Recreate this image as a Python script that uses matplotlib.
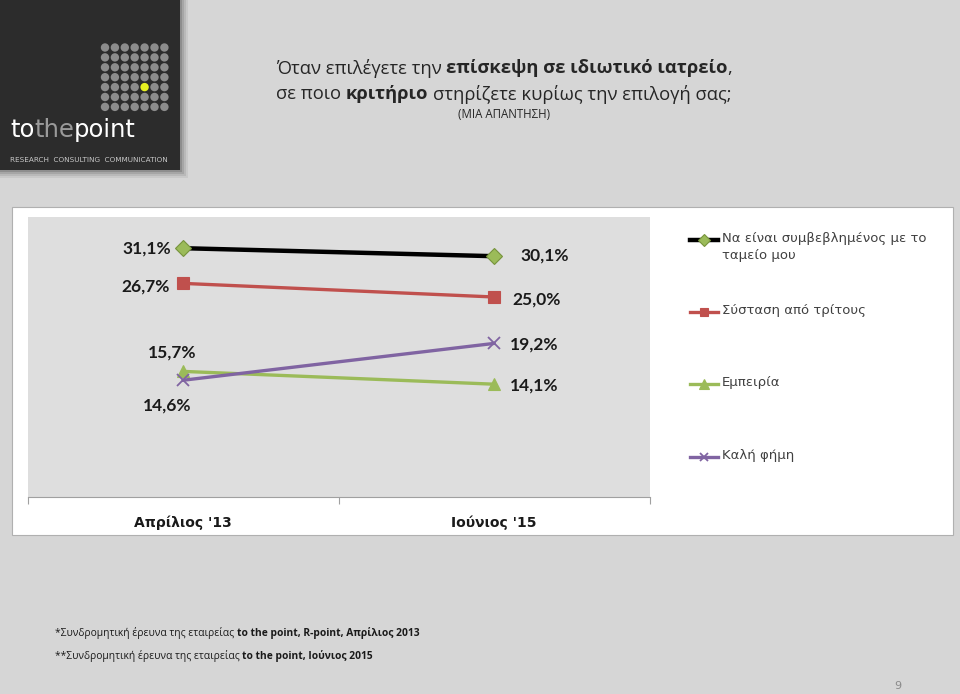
import matplotlib
matplotlib.use("Agg")
import matplotlib.pyplot as plt
from matplotlib.patches import Rectangle, Circle
from matplotlib.lines import Line2D

W, H = 960, 694

categories = ["Απρίλιος '13", "Ιούνιος '15"]
series_names = ["Να είναι συμβεβλημένος με το\nταμείο μου", "Σύσταση από τρίτους", "Εμπειρία", "Καλή φήμη"]
contract = [31.1, 30.1]
referral = [26.7, 25.0]
experience = [15.7, 14.1]
reputation = [14.6, 19.2]
values = [contract, referral, experience, reputation]

# line / marker styles per series
styles = [
    dict(color='#000000', lw=3.2, marker='D', ms=8, mfc='#9bbb59', mec='#77933c', mew=0.8),
    dict(color='#c0504d', lw=2.4, marker='s', ms=8, mfc='#c0504d', mec='#c0504d', mew=0.8),
    dict(color='#9bbb59', lw=2.4, marker='^', ms=9, mfc='#9bbb59', mec='#9bbb59', mew=0.8),
    dict(color='#8064a2', lw=2.4, marker='x', ms=8, mfc='#8064a2', mec='#8064a2', mew=1.3),
]
# label offsets in pixels (dx, dy), alignment
label_pos = [
    [(-12, 0, 'right'), (26, 1, 'left')],
    [(-14, -3, 'right'), (18, -3, 'left')],
    [(-11, 19, 'center'), (16, -1, 'left')],
    [(-16, -25, 'center'), (16, -1, 'left')],
]


def fx(x):
    return x / W


def fy(y):
    return 1 - y / H


fig = plt.figure(figsize=(W / 100, H / 100), dpi=100)
fig.patch.set_facecolor('#d6d6d6')

# logo block with a soft shadow
for i, a in enumerate([0.06, 0.08, 0.10, 0.14]):
    d = 8 - 2 * i
    fig.add_artist(Rectangle((0, fy(170 + d)), fx(180 + d), (170 + d) / H, transform=fig.transFigure,
                             color='black', alpha=a, lw=0, zorder=-2))
fig.add_artist(Rectangle((0, fy(170)), fx(180), 170 / H, transform=fig.transFigure, color='#2c2c2c', lw=0,
                         zorder=-2))
for r in range(7):
    for c in range(7):
        col = '#e6f020' if (r == 4 and c == 4) else '#8c8c8c'
        fig.add_artist(Circle((105 + c * 9.9, H - (47.5 + r * 9.9)), 4.2, transform=None, color=col, lw=0,
                              zorder=-1))

# white chart frame
fig.add_artist(Rectangle((fx(12), fy(535)), fx(941), 328 / H, transform=fig.transFigure,
                         facecolor='white', edgecolor='#b0b0b0', lw=0.8, zorder=-2))

renderer = fig.canvas.get_renderer()


def rich(x, y, parts, size, family, ha='center', color='#262626'):
    # draw a line of text made of normal/bold pieces
    texts, gaps = [], []
    for s, bold in parts:
        gaps.append(s.startswith(' '))
        t = fig.text(0, fy(y), s.strip(), fontsize=size, fontweight='bold' if bold else 'normal',
                     family=family, va='center', ha='left', color=color)
        texts.append(t)
    sp = size * 100 / 72 * 0.26
    widths = [t.get_window_extent(renderer).width for t in texts]
    total = sum(widths) + sp * sum(gaps)
    x0 = x - total / 2 if ha == 'center' else x
    for t, wd, g in zip(texts, widths, gaps):
        if g:
            x0 += sp
        t.set_x(fx(x0))
        x0 += wd
    return texts


# logo text
logo = rich(10, 130, [('to', False), ('the', False), ('point', False)], 17.5, 'DejaVu Sans', ha='left',
            color='white')
logo[1].set_color('#9a9a9a')
fig.text(fx(10), fy(160), 'RESEARCH  CONSULTING  COMMUNICATION', fontsize=5.2, color='#c8c8c8',
         family='DejaVu Sans', va='center')

# title
rich(504, 68, [('Όταν επιλέγετε την', False), (' επίσκεψη σε ιδιωτικό ιατρείο', True), (',', False)],
     13.2, 'Open Sans')
rich(504, 94, [('σε ποιο', False), (' κριτήριο', True), (' στηρίζετε κυρίως την επιλογή σας;', False)],
     13.2, 'Open Sans')
fig.text(fx(504), fy(114), '(ΜΙΑ ΑΠΑΝΤΗΣΗ)', fontsize=8.3, family='Open Sans', ha='center', va='center',
         color='#262626')

# plot
ax = fig.add_axes([fx(28), fy(497), (649.5 - 28) / W, (497 - 217) / H])
ax.set_facecolor('#dedede')
x = list(range(len(categories)))
for vals, st, lp in zip(values, styles, label_pos):
    ax.plot(x, vals, color=st['color'], lw=st['lw'], marker=st['marker'], ms=st['ms'],
            mfc=st['mfc'], mec=st['mec'], mew=st['mew'], zorder=3)
    for xi, v, (dx, dy, ha) in zip(x, vals, lp):
        ax.annotate(f'{v:.1f}%'.replace('.', ','), (xi, v), xytext=(dx * 0.72, dy * 0.72),
                    textcoords='offset points', ha=ha, va='center', fontsize=12.5,
                    fontweight='bold', family='Lato', color='#1a1a1a')
ax.set_xlim(-0.5, 1.5)
ax.set_ylim(0, 35)
ax.set_yticks([])
for s in ['top', 'left', 'right']:
    ax.spines[s].set_visible(False)
ax.spines['bottom'].set_color('#a0a0a0')
ax.spines['bottom'].set_linewidth(0.8)
ax.set_xticks(x)
ax.set_xticklabels(categories, fontsize=10, fontweight='bold', family='DejaVu Sans', color='#1a1a1a')
ax.tick_params(axis='x', which='major', length=0, pad=13)
ax.set_xticks([-0.5, 0.5, 1.5], minor=True)
ax.tick_params(axis='x', which='minor', length=5, color='#a0a0a0', width=0.8, direction='out')

# legend drawn by hand to match the slide layout
legend_y = [240, 312, 384, 457]
for name, st, ly in zip(series_names, styles, legend_y):
    fig.add_artist(Line2D([fx(690), fx(718)], [fy(ly), fy(ly)], transform=fig.transFigure,
                          color=st['color'], lw=st['lw']))
    fig.add_artist(Line2D([fx(704)], [fy(ly)], transform=fig.transFigure, ls='none',
                          marker=st['marker'], ms=st['ms'] * 0.75, mfc=st['mfc'], mec=st['mec'],
                          mew=st['mew']))
    fig.text(fx(722), fy(ly - 8), name, fontsize=9.5, family='DejaVu Sans', color='#404040',
             va='top', ha='left', linespacing=1.35)

# footnotes
rich(55, 633, [('*Συνδρομητική έρευνα της εταιρείας', False), (' to the point, R-point, Απρίλιος 2013', True)],
     7.4, 'Open Sans', ha='left', color='#1a1a1a')
rich(55, 656, [('**Συνδρομητική έρευνα της εταιρείας', False), (' to the point, Ιούνιος 2015', True)],
     7.4, 'Open Sans', ha='left', color='#1a1a1a')

fig.text(fx(898), fy(686), '9', fontsize=8, color='#8a8a8a', ha='center', va='center')

fig.savefig('out.png', dpi=100, facecolor=fig.get_facecolor())
